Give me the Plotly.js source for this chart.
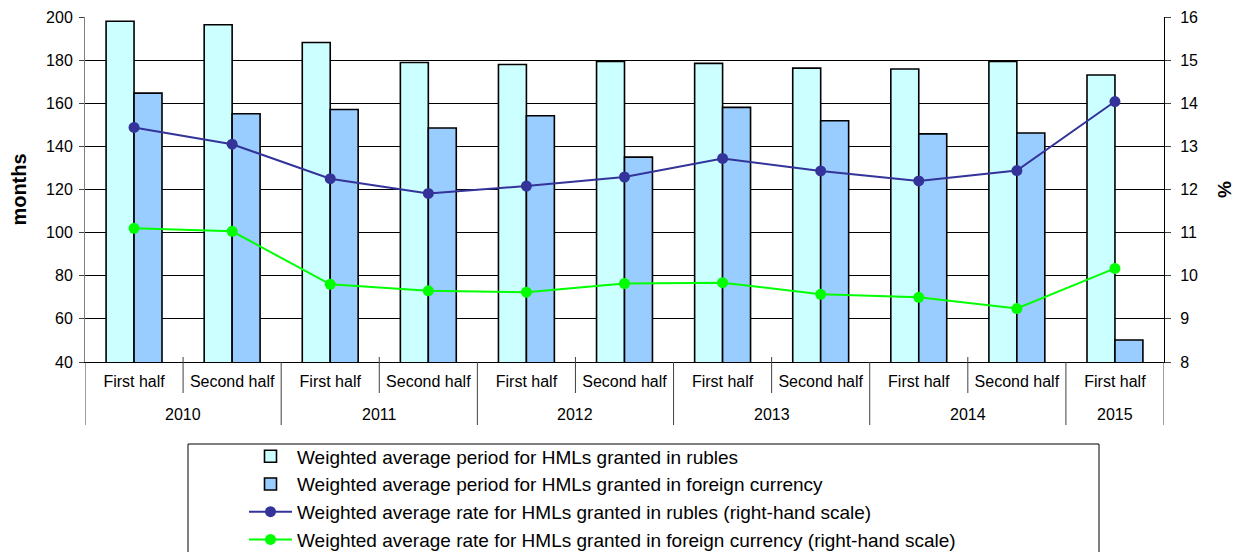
<!DOCTYPE html>
<html>
<head>
<meta charset="utf-8">
<script src="https://cdn.plot.ly/plotly-3.0.1.min.js"></script>
<style>html,body{margin:0;padding:0;background:#fff;}#chart{width:1237px;height:552px;}</style>
</head>
<body>
<div id="chart"></div>
<script>
const years = ['2010','2010','2011','2011','2012','2012','2013','2013','2014','2014','2015'];
const halves = ['First half','Second half','First half','Second half','First half','Second half','First half','Second half','First half','Second half','First half'];
const rubPeriod = [198, 196.4, 188.2, 178.9, 178.0, 179.4, 178.5, 176.3, 175.9, 179.4, 173.1];
const fxPeriod = [164.7, 155.1, 157.1, 148.5, 154.2, 135.0, 158.1, 151.9, 145.8, 146.2, 50.2];
const rubRate = [13.44, 13.05, 12.25, 11.91, 12.08, 12.29, 12.72, 12.43, 12.20, 12.44, 14.04];
const fxRate = [11.10, 11.03, 9.80, 9.65, 9.62, 9.82, 9.84, 9.57, 9.50, 9.24, 10.17];
const names = [
  'Weighted average period for HMLs granted in rubles',
  'Weighted average period for HMLs granted in foreign currency',
  'Weighted average rate for HMLs granted in rubles (right-hand scale)',
  'Weighted average rate for HMLs granted in foreign currency (right-hand scale)'
];

const FONT = 'Liberation Sans, Arial, sans-serif';
const idx = halves.map((_, i) => i);
const n = idx.length;

// plot geometry (pixels) used to convert offsets into paper fractions
const PH = 345;
const shortTop = 5 / PH, shortBot = -31 / PH, longBot = -63 / PH;

const shapes = [];
const annotations = [];
// boundary ticks between halves, long dividers between years and at both ends
for (let b = 0; b <= n; b++) {
  const xb = b - 0.5;
  const isYearEdge = (b === 0 || b === n || years[b] !== years[b - 1]);
  shapes.push({type:'line', xref:'x', yref:'paper', x0:xb, x1:xb,
    y0: isYearEdge ? 0 : shortTop, y1: isYearEdge ? longBot : shortBot,
    line:{color:'#404040', width:1}});
}
// year labels centered under each group
const groups = [];
years.forEach((y, i) => {
  const g = groups.length && groups[groups.length - 1].year === y ? groups[groups.length - 1] : null;
  if (g) g.last = i; else groups.push({year:y, first:i, last:i});
});
groups.forEach(g => annotations.push({xref:'x', yref:'paper', x:(g.first + g.last) / 2, y:-52 / PH,
  text:g.year, showarrow:false, xanchor:'center', yanchor:'middle', font:{family:FONT, size:16, color:'#000'}}));

// legend frame
shapes.push({type:'rect', xref:'paper', yref:'paper', x0:(188 - 85) / 1079, x1:(1099 - 85) / 1079,
  y0:(362 - 600) / PH, y1:(362 - 444) / PH, line:{color:'#000', width:1}, fillcolor:'rgba(0,0,0,0)'});

const traces = [
  {type:'bar', x:idx, y:rubPeriod, name:names[0], marker:{color:'#CCFFFF', line:{color:'#000', width:1.6}}},
  {type:'bar', x:idx, y:fxPeriod, name:names[1], marker:{color:'#99CCFF', line:{color:'#000', width:1.6}}},
  {type:'scatter', mode:'lines+markers', x:idx, y:rubRate, yaxis:'y2', name:names[2], line:{color:'#333399', width:2}, marker:{color:'#333399', size:11}},
  {type:'scatter', mode:'lines+markers', x:idx, y:fxRate, yaxis:'y2', name:names[3], line:{color:'#00FF00', width:2}, marker:{color:'#00FF00', size:11}}
];

const layout = {
  width:1237, height:552,
  margin:{l:85, r:73, t:17, b:190},
  paper_bgcolor:'#fff', plot_bgcolor:'#fff',
  font:{family:FONT, size:16, color:'#000'},
  barmode:'group', bargap:0.43, bargroupgap:0,
  showlegend:true,
  legend:{xref:'paper', yref:'container', x:(244 - 85) / 1079, xanchor:'left', y:0.2075, yanchor:'top',
          bgcolor:'rgba(0,0,0,0)', borderwidth:0,
          font:{family:FONT, size:19, color:'#000'}, traceorder:'normal', itemwidth:43, tracegroupgap:0},
  xaxis:{range:[-0.5, n - 0.5], tickvals:idx, ticktext:halves, ticks:'', showgrid:false, zeroline:false,
         showline:true, linecolor:'#000', linewidth:1, automargin:false, ticklabelstandoff:5,
         tickangle:0, tickfont:{family:FONT, size:16, color:'#000'}},
  yaxis:{range:[40,200], dtick:20, showgrid:true, gridcolor:'#000', gridwidth:1, automargin:false,
         showline:true, linecolor:'#808080', linewidth:1, ticks:'outside', ticklen:5, tickcolor:'#404040',
         zeroline:false, tickfont:{family:FONT, size:16, color:'#000'}, ticklabelstandoff:3,
         title:{text:'months', standoff:14, font:{family:FONT, size:20, weight:'bold', color:'#000'}}},
  yaxis2:{range:[8,16], dtick:1, overlaying:'y', side:'right', showgrid:false, automargin:false,
          showline:true, linecolor:'#000', linewidth:1, ticks:'outside', ticklen:6, tickcolor:'#404040',
          zeroline:false, tickfont:{family:FONT, size:16, color:'#000'}, ticklabelstandoff:6,
          title:{text:'%', standoff:20, font:{family:FONT, size:19, weight:'bold', color:'#000'}}},
  shapes:shapes,
  annotations:annotations
};

Plotly.newPlot('chart', traces, layout, {displayModeBar:false, staticPlot:true});
</script>
</body>
</html>
